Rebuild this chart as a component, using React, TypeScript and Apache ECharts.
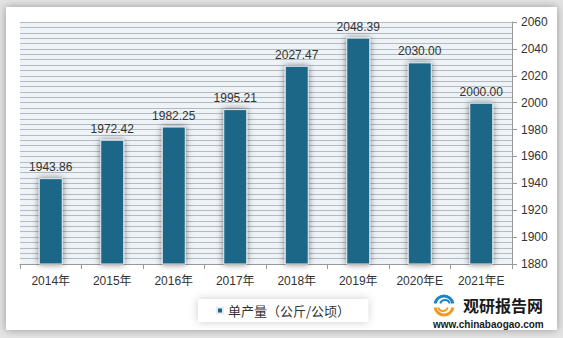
import React, { useEffect, useRef } from "react";
import * as echarts from "echarts";

const categories = ["2014年", "2015年", "2016年", "2017年", "2018年", "2019年", "2020年E", "2021年E"];
const yieldValues = [1943.86, 1972.42, 1982.25, 1995.21, 2027.47, 2048.39, 2030.0, 2000.0];
const seriesName = "单产量（公斤/公顷）";

export default function App() {
  const ref = useRef<HTMLDivElement>(null);
  useEffect(() => {
    document.body.style.margin = "0";
    const chart = echarts.init(ref.current!, null, { renderer: "svg" });
    const font = "'Liberation Sans', 'Noto Sans CJK SC', sans-serif";
    chart.setOption({
      animation: false,
      backgroundColor: "#e4e4e4",
      textStyle: { fontFamily: font },
      graphic: [
        {
          type: "rect",
          z: -10,
          shape: { x: 6, y: 7, width: 551, height: 323 },
          style: { fill: "#ffffff", shadowBlur: 8, shadowColor: "rgba(0,0,0,0.35)" },
        },
        {
          type: "arc",
          shape: { cx: 444, cy: 305, r: 9, startAngle: -Math.PI * 0.95, endAngle: -Math.PI * 0.05 },
          style: { stroke: "#1f86c6", lineWidth: 3, fill: "none" },
        },
        {
          type: "arc",
          shape: { cx: 445, cy: 305, r: 5, startAngle: -Math.PI * 0.9, endAngle: -Math.PI * 0.1 },
          style: { stroke: "#1f86c6", lineWidth: 2, fill: "none" },
        },
        {
          type: "arc",
          shape: { cx: 444, cy: 306, r: 9, startAngle: Math.PI * 0.05, endAngle: Math.PI * 0.95 },
          style: { stroke: "#f39a1e", lineWidth: 3, fill: "none" },
        },
        {
          type: "arc",
          shape: { cx: 443, cy: 306, r: 5, startAngle: Math.PI * 0.1, endAngle: Math.PI * 0.9 },
          style: { stroke: "#f39a1e", lineWidth: 2, fill: "none" },
        },
        {
          type: "text",
          left: 463,
          top: 297,
          style: { text: "观研报告网", font: "bold 16px 'Noto Sans CJK SC', sans-serif", fill: "#1a1a1a" },
        },
        {
          type: "text",
          left: 433,
          top: 319,
          style: { text: "www.chinabaogao.com", font: "bold 10px 'Liberation Sans', sans-serif", fill: "#1a1a1a" },
        },
      ],
      grid: {
        left: 20,
        right: 51,
        top: 22,
        bottom: 74,
        show: true,
        backgroundColor: "#eef3f7",
        borderWidth: 0,
      },
      legend: {
        left: 198,
        top: 299,
        padding: [5, 18, 5, 18],
        backgroundColor: "#ffffff",
        shadowBlur: 8,
        shadowColor: "rgba(0,0,0,0.2)",
        icon: "rect",
        itemWidth: 6,
        itemHeight: 6,
        itemGap: 4,
        textStyle: { fontSize: 13, color: "#333", fontFamily: "'Noto Sans CJK SC', sans-serif" },
        data: [seriesName],
      },
      xAxis: {
        type: "category",
        data: categories,
        axisLine: { lineStyle: { color: "#999" } },
        axisTick: { show: true, length: 5, lineStyle: { color: "#999" } },
        axisLabel: { color: "#333", fontSize: 12, margin: 11 },
        splitLine: { show: false },
      },
      yAxis: {
        type: "value",
        position: "right",
        min: 1880,
        max: 2060,
        interval: 20,
        axisLine: { show: true, lineStyle: { color: "#999" } },
        axisTick: { show: true, length: 5, lineStyle: { color: "#999" } },
        axisLabel: { color: "#333", fontSize: 12, margin: 9, formatter: (v: number) => String(v) },
        splitLine: { show: true, lineStyle: { color: "#b4bac0", width: 1 } },
        minorTick: { show: false, splitNumber: 5 },
        minorSplitLine: { show: true, lineStyle: { color: "#b4bac0", width: 1 } },
      },
      series: [
        {
          name: seriesName,
          type: "bar",
          data: yieldValues,
          barWidth: 24,
          itemStyle: {
            color: "#1b6688",
            borderColor: "#e6edf2",
            borderWidth: 1,
            shadowBlur: 6,
            shadowColor: "rgba(0,0,0,0.5)",
          },
          label: {
            show: true,
            position: "top",
            distance: 5,
            color: "#333",
            fontSize: 12,
            formatter: (p: any) => Number(p.value).toFixed(2),
          },
        },
      ],
    });
    return () => chart.dispose();
  }, []);
  return <div ref={ref} style={{ width: 563, height: 338 }} />;
}
